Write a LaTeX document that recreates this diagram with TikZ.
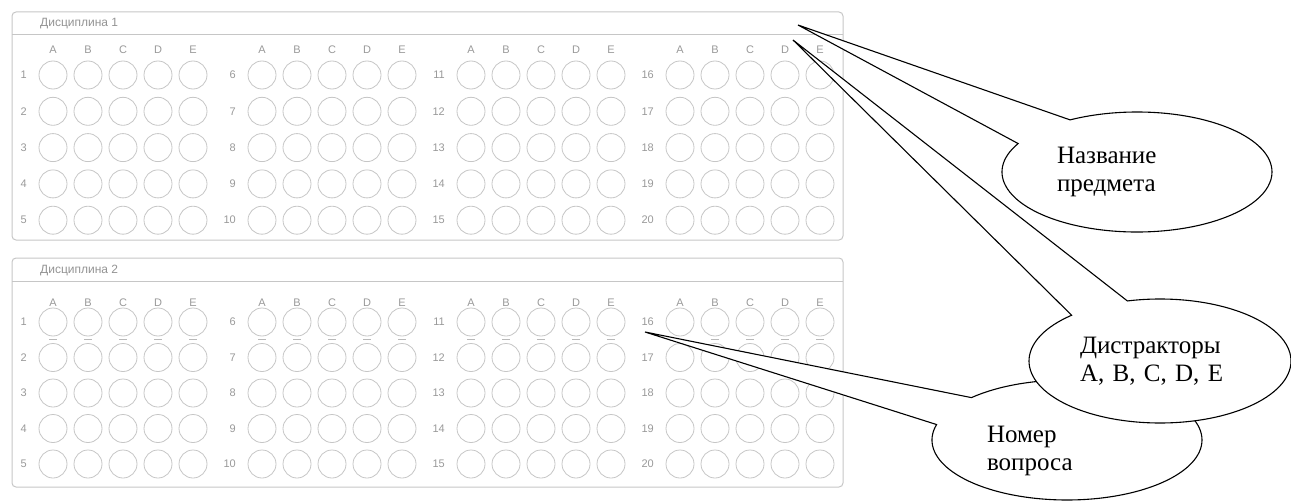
\documentclass[tikz,border=0pt]{standalone}
\usepackage{fontspec}
\setmainfont{Liberation Serif}
\newfontfamily\formfont{Liberation Sans}
\usetikzlibrary{shapes.callouts}

\tikzset{
    panel/.style={draw=gray!45, line width=1pt, rounded corners=4pt},
    oval/.style={circle, draw=gray!45, line width=0.8pt, minimum size=28pt, inner sep=0pt},
    letlbl/.style={font=\formfont\fontsize{11}{13}\selectfont, text=gray!80, inner sep=0pt},
    numlbl/.style={font=\formfont\fontsize{11}{13}\selectfont, text=gray!80, inner sep=0pt, anchor=east},
    headtxt/.style={font=\formfont\fontsize{12}{14}\selectfont, text=gray!85, inner sep=0pt, anchor=west},
    bubble/.style={ellipse callout, draw=black, fill=white, line width=1.1pt, inner sep=0pt,
        minimum width=270pt, minimum height=120pt, text width=160pt, align=left,
        font=\rmfamily\fontsize{25}{28.5}\selectfont}
}

\begin{document}
\begin{tikzpicture}[x=1pt, y=-1pt]
    \useasboundingbox (0,0) rectangle (1291,503);

    % first subject
    \draw[panel] (12,12) rectangle (843,240);
    \draw[gray!45, line width=1pt] (12,35) -- (843,35);
    \node[headtxt] (head1) at (40,24) {Дисциплина 1};
    \foreach \b in {0,...,3}{
        \foreach \c [count=\k from 0] in {A,B,C,D,E}{
            \node[letlbl] (tl-\b-\c) at (53+209*\b+35*\k, 50) {\c};
            \foreach \r in {1,...,5}
                \node[oval] (t-\b-\r-\c) at (53+209*\b+35*\k, 75+36.3*\r-36.3) {};
        }
        \foreach \r in {1,...,5}{
            \pgfmathtruncatemacro\q{5*\b+\r}
            \node[numlbl] (tn-\q) at (27+209*\b, 75+36.3*\r-36.3) {\q};
        }
    }

    % second subject
    \draw[panel] (12,258) rectangle (843,487);
    \draw[gray!45, line width=1pt] (12,281) -- (843,281);
    \node[headtxt] (head2) at (40,271) {Дисциплина 2};
    \foreach \b in {0,...,3}{
        \foreach \c [count=\k from 0] in {A,B,C,D,E}{
            \node[letlbl] (bl-\b-\c) at (53+209*\b+35*\k, 303) {\c};
            \foreach \r in {1,...,5}
                \node[oval] (b-\b-\r-\c) at (53+209*\b+35*\k, 322+35.5*\r-35.5) {};
            \draw[gray!55, line width=1pt] ([xshift=-4pt,yshift=-3pt]b-\b-1-\c.south) -- ++(8,0);
        }
        \foreach \r in {1,...,5}{
            \pgfmathtruncatemacro\q{5*\b+\r}
            \node[numlbl] (bn-\q) at (27+209*\b, 322+35.5*\r-35.5) {\q};
        }
    }

    % callouts
    \coordinate (subjtip) at (798,25);
    \coordinate (opttip) at (793,40);
    \coordinate (numtip) at (645,332);

    \node[bubble, callout absolute pointer={(numtip)}, callout pointer arc=30] (numbub) at (1067,440) {\rule{0pt}{38pt}Номер\\вопроса};
    \node[bubble, minimum width=262pt, minimum height=124pt, callout absolute pointer={(opttip)}, callout pointer arc=28] (optbub) at (1160,361) {Дистракторы\\A, B, C, D, E};
    \node[bubble, callout absolute pointer={(subjtip)}, callout pointer arc=32] (subjbub) at (1137,172) {Название\\предмета};
\end{tikzpicture}
\end{document}
